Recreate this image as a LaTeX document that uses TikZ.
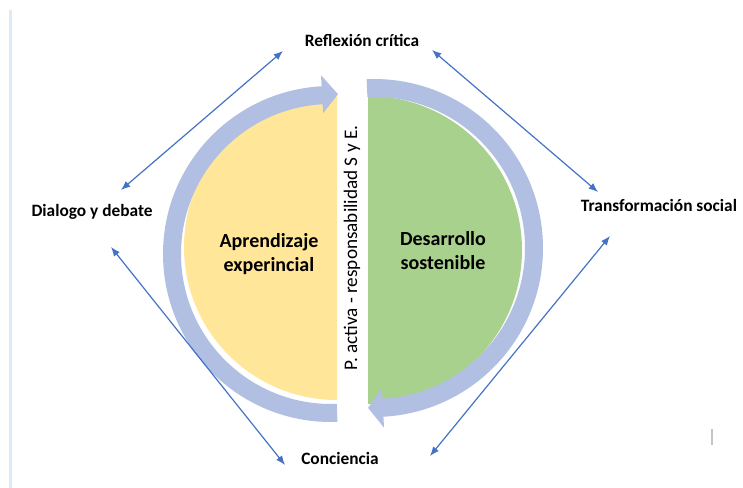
\documentclass[tikz,border=0pt]{standalone}
\usepackage{fontspec}
\setmainfont{Carlito}
\usetikzlibrary{arrows.meta}
\definecolor{ylw}{HTML}{FFE699}
\definecolor{grn}{HTML}{A9D18E}
\definecolor{bandc}{HTML}{B0BFE2}
\definecolor{lnk}{HTML}{4472C4}
\definecolor{barc}{HTML}{DDEBF7}
\begin{document}
\begin{tikzpicture}[x=0.75pt,y=-0.75pt,
  link/.style={draw=lnk, line width=0.9pt, {Latex[length=7pt,width=5.5pt]}-{Latex[length=7pt,width=5.5pt]}},
  outer/.style={font=\fontsize{13}{15}\selectfont\bfseries, inner sep=0pt},
  inner/.style={font=\fontsize{15}{18}\selectfont\bfseries, align=center, inner sep=0pt},
  vert/.style={font=\fontsize{14.4}{16}\selectfont, rotate=90, inner sep=0pt},
]
\useasboundingbox (0,0) rectangle (743,488);
\fill[white] (0,0) rectangle (743,488);
% faint marks
\fill[barc] (9,10) rectangle (12,488);
\fill[gray!45] (711,429) rectangle (713,445);

% halves
\fill[ylw] (337,94) arc[start angle=270, end angle=90, radius=153] -- cycle;
\fill[grn] (368,96) arc[start angle=270, end angle=450, radius=154] -- cycle;

% circular arrows
\begin{scope}[shift={(331,254)}]
\fill[bandc] (87.8:168) arc[start angle=87.8, end angle=266.8, radius=168]
  -- (266.8:179) -- (272.5:160) -- (266.8:141) -- (266.8:150)
  arc[start angle=266.8, end angle=87.8, radius=150] -- cycle;
\end{scope}
\begin{scope}[shift={(374,248)}]
\fill[bandc] (267.5:169) arc[start angle=267.5, end angle=446.8, radius=169]
  -- (446.8:180) -- (452.1:160) -- (446.8:140) -- (446.8:151)
  arc[start angle=446.8, end angle=267.5, radius=151] -- cycle;
\end{scope}

% texts
\node[inner] (apr) at (269,254) {Aprendizaje\\experincial};
\node[inner] (des) at (443,251) {Desarrollo\\sostenible};
\node[vert] (pact) at (352,248) {P. activa - responsabilidad S y E.};
\node[outer] (refl) at (362,40) {Reflexión crítica};
\node[outer] (dial) at (92,212) {Dialogo y debate};
\node[outer] (trans) at (659,205) {Transformación social};
\node[outer] (conc) at (340,458) {Conciencia};

% connectors
\coordinate (l1a) at (121,190);
\coordinate (l1b) at (283,51);
\coordinate (l2a) at (432,50);
\coordinate (l2b) at (598,192);
\coordinate (l3a) at (610,236);
\coordinate (l3b) at (430,456);
\coordinate (l4a) at (111,247);
\coordinate (l4b) at (285,465);
\draw[link] (l1a) -- (l1b);
\draw[link] (l2a) -- (l2b);
\draw[link] (l3a) -- (l3b);
\draw[link] (l4a) -- (l4b);
\end{tikzpicture}
\end{document}
